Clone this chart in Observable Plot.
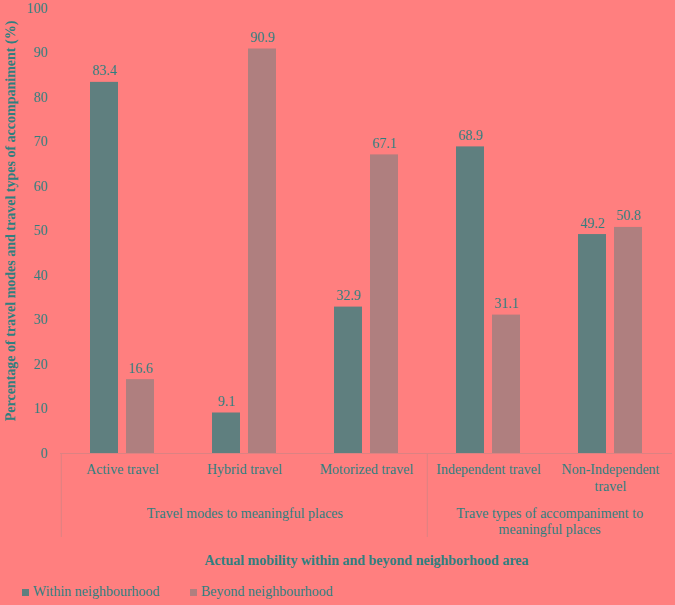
<!DOCTYPE html>
<html><head><meta charset="utf-8">
<script src="https://cdn.jsdelivr.net/npm/d3@7"></script>
<script src="https://cdn.jsdelivr.net/npm/@observablehq/plot@0.6"></script>
<style>
body{margin:0;background:#FF7F7F;}
#chart{width:675px;height:605px;background:#FF7F7F;position:relative;overflow:hidden;font-family:"Liberation Serif",serif;}
.item{position:absolute;top:584px;display:flex;align-items:center;font-size:14px;color:#2f7f7f;line-height:16px;}
.sw{width:7px;height:7px;margin-right:4px;}
</style></head><body><div id="chart"></div>
<script>
const categories = ["Active travel","Hybrid travel","Motorized travel","Independent travel","Non-Independent travel"];
const categoryLabels = ["Active travel","Hybrid travel","Motorized travel","Independent travel","Non-Independent\ntravel"];
const withinValues = [83.4, 9.1, 32.9, 68.9, 49.2];
const beyondValues = [16.6, 90.9, 67.1, 31.1, 50.8];
const seriesNames = ["Within neighbourhood","Beyond neighbourhood"];
const seriesColors = ["#5F7F7F","#AF7F7F"];
const groupLabels = ["Travel modes to meaningful places","Trave types of accompaniment to\nmeaningful places"];
const groupMembers = [["Active travel","Hybrid travel","Motorized travel"],["Independent travel","Non-Independent travel"]];
const yTicks = [0,10,20,30,40,50,60,70,80,90,100];
const yTitle = "Percentage of travel modes and travel types of accompaniment (%)";
const xTitle = "Actual mobility within and beyond neighborhood area";

const W = 675, H = 575, mL = 60, mR = 3, mT = 8, mB = 122;
const bw = (W - mL - mR) / categories.length;
const barW = 28.4, gap = 7.6;
const textColor = "#2f7f7f";
const lineColor = "#dc8282";
const pxPerUnit = (H - mT - mB) / 100;

const within = categories.map((c, i) => ({cat: c, v: withinValues[i]}));
const beyond = categories.map((c, i) => ({cat: c, v: beyondValues[i]}));

const marks = [
  Plot.ruleY([0], {stroke: lineColor}),
  Plot.axisY(yTicks, {tickSize: 0, tickPadding: 13, label: null, fontSize: 14}),
  Plot.barY(within, {x: "cat", y: "v", fill: seriesColors[0],
    insetLeft: bw/2 - gap/2 - barW, insetRight: bw/2 + gap/2}),
  Plot.barY(beyond, {x: "cat", y: "v", fill: seriesColors[1],
    insetLeft: bw/2 + gap/2, insetRight: bw/2 - gap/2 - barW}),
  Plot.text(within, {x: "cat", y: "v", text: d => d.v.toFixed(1), dx: -(gap/2 + barW/2), dy: -7, lineAnchor: "bottom", fontSize: 14}),
  Plot.text(beyond, {x: "cat", y: "v", text: d => d.v.toFixed(1), dx: (gap/2 + barW/2), dy: -7, lineAnchor: "bottom", fontSize: 14}),
  Plot.text(categories, {x: d => d, text: (d, i) => categoryLabels[i], frameAnchor: "bottom", lineAnchor: "top", dy: 9, lineHeight: 1.2, fontSize: 14}),
  Plot.text([yTitle], {frameAnchor: "left", textAnchor: "middle", rotate: -90, dx: -50, dy: -10, fontWeight: "bold", fontSize: 14}),
  Plot.text([xTitle], {frameAnchor: "bottom", dy: 107, lineAnchor: "middle", fontWeight: "bold", fontSize: 14})
];
groupMembers.forEach((members, g) => {
  marks.push(Plot.text([groupLabels[g]], {x: () => members[0], dx: (members.length - 1) * bw / 2,
    frameAnchor: "bottom", lineAnchor: "top", dy: 53, lineHeight: 1.15, fontSize: 14}));
  marks.push(Plot.ruleX([members[0]], {x: d => d, dx: -bw/2, y1: 0, y2: -84 / pxPerUnit, stroke: lineColor}));
});

const plot = Plot.plot({
  width: W, height: H,
  marginTop: mT, marginBottom: mB, marginLeft: mL, marginRight: mR,
  style: {background: "#FF7F7F", color: textColor, fontFamily: "'Liberation Serif', serif", fontSize: "14px", overflow: "visible"},
  x: {domain: categories, type: "band", padding: 0, axis: null},
  y: {domain: [0, 100], axis: null},
  marks
});
const chart = document.getElementById("chart");
chart.appendChild(plot);
const lefts = [22, 190];
seriesNames.forEach((n, i) => {
  const it = document.createElement("div");
  it.className = "item";
  it.style.left = lefts[i] + "px";
  it.innerHTML = `<span class="sw" style="background:${seriesColors[i]}"></span><span>${n}</span>`;
  chart.appendChild(it);
});
</script></body></html>
